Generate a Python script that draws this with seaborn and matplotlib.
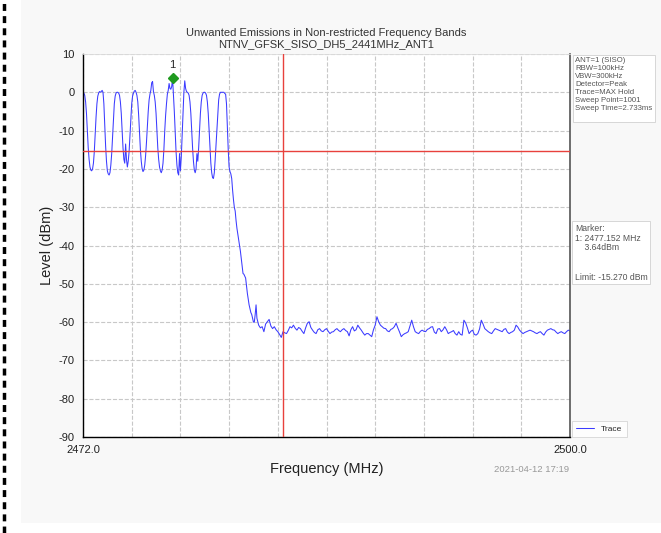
import numpy as np
import pandas as pd
import matplotlib
matplotlib.use("Agg")
import matplotlib.pyplot as plt
import seaborn as sns
from matplotlib.patches import Rectangle
from matplotlib.lines import Line2D

# ==========================
# Data
# ==========================

title_lines = ["Unwanted Emissions in Non-restricted Frequency Bands",
               "NTNV_GFSK_SISO_DH5_2441MHz_ANT1"]

# hopping region, 2472.00 .. 2481.95 MHz, 0.05 MHz steps (one row per MHz)
hop_level = [
    0.0, -0.2, -0.8, -2.5, -5.5, -10.0, -14.5, -17.5, -19.5, -20.3, -20.5, -20.0, -18.5, -15.5, -11.0, -6.5, -3.0, -1.0, -0.2, 0.2,
    0.0, 0.2, 0.5, 0.0, -3.0, -8.5, -14.0, -18.0, -20.5, -21.3, -21.6, -21.0, -19.0, -16.0, -11.5, -6.5, -3.0, -1.0, -0.2, 0.0,
    0.0, -0.2, -0.8, -2.5, -5.5, -10.0, -14.5, -17.5, -18.5, -13.5, -17.5, -19.5, -18.0, -15.5, -11.5, -7.0, -3.0, -1.0, -0.2, 0.3,
    0.5, 0.0, -0.8, -2.5, -6.0, -10.5, -15.0, -18.0, -20.0, -20.7, -20.3, -19.0, -16.5, -13.0, -9.0, -5.0, -2.0, -0.5, 0.5, 2.5,
    2.8, 0.2, -0.8, -2.5, -5.5, -10.0, -14.5, -17.5, -19.5, -20.5, -21.0, -20.3, -18.5, -15.0, -10.0, -6.0, -3.0, -0.5, 0.5, 2.3,
    1.0, 0.8, 1.5, 3.64, -0.5, -5.0, -10.5, -15.5, -19.0, -21.0, -21.6, -16.0, -20.5, -17.0, -11.5, -5.5, 0.0, 3.0, 1.0, 0.2,
    0.0, -0.2, -0.8, -2.5, -5.5, -10.0, -14.5, -18.0, -20.3, -21.0, -20.0, -16.0, -18.0, -14.5, -10.0, -5.5, -2.5, -0.8, -0.2, 0.0,
    0.0, -0.2, -0.8, -2.5, -5.5, -10.0, -15.0, -18.5, -21.0, -22.3, -22.5, -21.0, -17.5, -13.5, -9.0, -5.0, -2.0, -0.5, 0.0, 0.0,
    0.0, 0.0, 0.0, -0.3, -0.5, -3.0, -9.0, -15.0, -19.5, -20.7, -21.3, -22.5, -25.5, -28.0, -30.0, -31.0, -33.5, -35.5, -37.0, -38.5,
    -40.0, -41.5, -43.5, -45.5, -47.3, -47.5, -48.0, -48.5, -50.5, -52.5, -54.0, -55.5, -56.5, -57.5, -58.0, -59.0, -60.0, -60.0, -58.0, -55.5,
]

# noise floor, 2482.0 .. 2500.0 MHz, 0.1 MHz steps (one row per 2 MHz)
noise_level = [
    -59.0, -60.8, -61.5, -61.2, -62.5, -60.5, -59.9, -59.3, -61.0, -61.7, -61.2, -62.0, -62.5, -63.2, -64.0, -62.5, -62.8, -63.0, -62.2, -61.2,
    -61.5, -60.8, -61.6, -62.1, -61.4, -61.7, -62.4, -63.0, -61.5, -60.3, -59.9, -61.4, -62.1, -62.7, -63.0, -62.0, -61.7, -62.3, -62.5, -62.0,
    -61.7, -62.4, -63.0, -62.6, -62.5, -62.0, -61.7, -62.2, -62.5, -62.0, -61.7, -62.2, -62.5, -63.6, -62.0, -61.2, -62.3, -62.0, -60.8, -61.5,
    -62.1, -62.8, -63.4, -63.0, -63.0, -63.4, -63.8, -62.0, -60.8, -58.6, -59.9, -60.8, -61.2, -61.6, -61.7, -62.3, -62.5, -61.9, -61.7, -61.2,
    -60.3, -61.5, -62.6, -63.8, -63.3, -63.0, -62.8, -62.5, -61.0, -59.5, -61.2, -62.5, -62.8, -63.0, -62.4, -62.1, -62.4, -62.5, -61.9, -61.7,
    -61.3, -61.2, -62.6, -63.0, -61.8, -61.7, -62.5, -62.0, -61.2, -62.0, -63.0, -62.7, -62.5, -62.2, -63.0, -63.4, -62.5, -63.2, -63.4, -59.5,
    -60.2, -61.5, -63.0, -62.4, -62.1, -63.2, -63.4, -63.0, -61.8, -59.5, -60.5, -61.7, -62.1, -62.5, -62.8, -63.0, -62.3, -61.7, -61.9, -62.1,
    -62.3, -62.5, -61.9, -61.7, -62.6, -63.0, -62.7, -62.5, -62.1, -60.8, -61.3, -62.1, -62.6, -63.0, -62.7, -62.5, -62.3, -62.1, -62.3, -62.5,
    -62.8, -63.0, -62.7, -62.5, -63.0, -63.4, -62.6, -62.1, -61.9, -61.7, -62.0, -62.1, -62.6, -63.0, -62.7, -62.5, -62.8, -63.0, -62.5, -62.1,
    -62.3,
]

limit_level = -15.27
band_edge = 2483.5
marker_freq = 2477.152
marker_level = 3.64

x_ticks = [2472.0, 2474.8, 2477.6, 2480.4, 2483.2, 2486.0, 2488.8, 2491.6, 2494.4, 2497.2, 2500.0]
x_ticklabels = ["2472.0", "", "", "", "", "", "", "", "", "", "2500.0"]
y_ticks = [-90, -80, -70, -60, -50, -40, -30, -20, -10, 0, 10]

info_text = ("ANT=1 (SISO)\nRBW=100kHz\nVBW=300kHz\nDetector=Peak\n"
             "Trace=MAX Hold\nSweep Point=1001\nSweep Time=2.733ms\n ")
marker_text = "Marker:\n1: 2477.152 MHz\n    3.64dBm\n\n\nLimit: -15.270 dBm"
date_text = "2021-04-12 17:19"

hop_freq = np.linspace(2472.0, 2481.95, len(hop_level))
noise_freq = np.linspace(2482.0, 2500.0, len(noise_level))

df = pd.DataFrame({
    "Frequency": np.concatenate([hop_freq, noise_freq]),
    "Level": np.concatenate([hop_level, noise_level]),
})

# ==========================
# Plot
# ==========================

sns.set_style("whitegrid", {"grid.linestyle": "--", "grid.color": "#c8c8c8"})
plt.rcParams["font.family"] = ["Liberation Sans", "DejaVu Sans"]

fig = plt.figure(figsize=(6.61, 5.33), dpi=100, facecolor="white")
fig.patches.append(Rectangle((21 / 661, 10 / 533), 640 / 661, 523 / 533,
                             transform=fig.transFigure, facecolor="#f8f8f8",
                             edgecolor="none", zorder=-10))
fig.lines.append(Line2D([4 / 661, 4 / 661], [0, 1], transform=fig.transFigure,
                        color="black", lw=2.5, linestyle=(0, (2, 1.5))))

ax = fig.add_axes([83 / 661, 96 / 533, 487 / 661, 383 / 533])
ax.set_facecolor("white")

sns.lineplot(data=df, x="Frequency", y="Level", ax=ax, color="#3b3bff",
             linewidth=0.75, sort=False, estimator=None, label="Trace")

ax.axhline(limit_level, color="#e8413c", lw=1, zorder=3)
ax.axvline(band_edge, color="#e8413c", lw=1, zorder=3)

ax.plot(marker_freq, marker_level, "D", color="#1f9a1f", ms=5, zorder=5)
ax.annotate("1", (marker_freq, marker_level), xytext=(0, 6),
            textcoords="offset points", ha="center", va="bottom", fontsize=8)

ax.set_xlim(2472, 2500)
ax.set_ylim(-90, 10)
ax.set_xticks(x_ticks)
ax.set_xticklabels(x_ticklabels, fontsize=8)
ax.set_yticks(y_ticks)
ax.set_yticklabels([str(v) for v in y_ticks], fontsize=8)
ax.tick_params(axis="both", which="both", direction="out", length=4,
               width=0.8, color="black", pad=2, labelcolor="#222222")

ax.set_xlabel("Frequency (MHz)", fontsize=10.5, labelpad=5, color="#222222")
ax.set_ylabel("Level (dBm)", fontsize=10.5, labelpad=3, color="#222222")
ax.set_title("\n".join(title_lines), fontsize=8, color="#333333", pad=5,
             linespacing=1.1)

for side in ["left", "bottom"]:
    ax.spines[side].set_color("black")
    ax.spines[side].set_linewidth(1)
ax.spines["right"].set_color("#555555")
ax.spines["right"].set_linewidth(1.2)
ax.spines["top"].set_color("#dddddd")
ax.spines["top"].set_linewidth(0.6)

leg = ax.legend(loc="lower left", bbox_to_anchor=(1.004, 0.0), fontsize=6,
                frameon=True, fancybox=False, handlelength=2.2,
                borderpad=0.5, borderaxespad=0.0)
leg.get_frame().set_edgecolor("#cccccc")
leg.get_frame().set_linewidth(0.6)

box_style = dict(boxstyle="square,pad=0.3", facecolor="white",
                 edgecolor="#d0d0d0", linewidth=0.6)
fig.text(575 / 661, 1 - 57 / 533, info_text, fontsize=5.6, color="#555555",
         va="top", ha="left", linespacing=1.2, bbox=box_style)
fig.text(575 / 661, 1 - 224 / 533, marker_text, fontsize=6.2, color="#555555",
         va="top", ha="left", linespacing=1.1, bbox=box_style)
fig.text(569 / 661, 1 - 470 / 533, date_text, fontsize=6.8, color="#999999",
         va="center", ha="right")

fig.savefig("out.png", dpi=100, facecolor=fig.get_facecolor())
